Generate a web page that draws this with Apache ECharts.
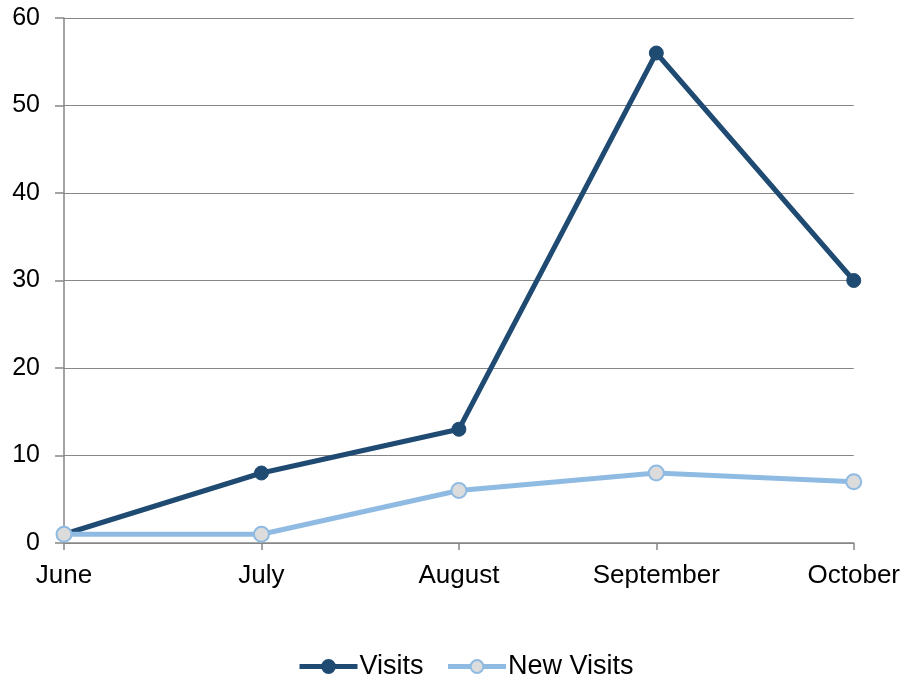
<!DOCTYPE html>
<html>
<head>
<meta charset="utf-8">
<script src="https://cdn.jsdelivr.net/npm/echarts@6/dist/echarts.min.js"></script>
<style>
  html, body { margin: 0; padding: 0; background: #fff; }
  #chart { width: 903px; height: 675px; }
</style>
</head>
<body>
<div id="chart"></div>
<script>
var months = ["June", "July", "August", "September", "October"];
var visits = [1, 8, 13, 56, 30];
var newVisits = [1, 1, 6, 8, 7];

var chartDom = document.getElementById("chart");
var myChart = echarts.init(chartDom);
var font = "Liberation Sans";

var option = {
  animation: false,
  textStyle: { fontFamily: font },
  grid: { left: 64, right: 49, top: 18, bottom: 132 },
  legend: {
    top: 648,
    left: 292,
    itemWidth: 58,
    itemHeight: 16,
    itemGap: 22,
    textStyle: { fontSize: 27, color: "#000", fontFamily: font, padding: [0, 0, 0, -3] },
    data: [
      { name: "Visits", itemStyle: { color: "#1f4a72" }, lineStyle: { width: 5 } },
      { name: "New Visits", lineStyle: { width: 5 } }
    ]
  },
  xAxis: {
    type: "category",
    boundaryGap: false,
    data: months,
    axisLine: { lineStyle: { color: "#868686", width: 1.5 } },
    axisTick: { show: true, length: 7, lineStyle: { color: "#868686", width: 1.5 } },
    axisLabel: { fontSize: 26, color: "#000", margin: 20, fontFamily: font }
  },
  yAxis: {
    type: "value",
    min: 0,
    max: 60,
    interval: 10,
    axisLine: { show: true, lineStyle: { color: "#868686", width: 1.5 } },
    axisTick: { show: true, length: 9, lineStyle: { color: "#868686", width: 1.5 } },
    axisLabel: { fontSize: 25, color: "#000", margin: 24, fontFamily: font },
    splitLine: { lineStyle: { color: "#868686", width: 1.2 } }
  },
  series: [
    {
      name: "Visits",
      type: "line",
      data: visits,
      symbol: "circle",
      symbolSize: 14,
      z: 2,
      lineStyle: { color: "#1f4a72", width: 5 },
      itemStyle: { color: "#1f4a72", borderColor: "#1f4a72", borderWidth: 1 }
    },
    {
      name: "New Visits",
      type: "line",
      data: newVisits,
      symbol: "circle",
      symbolSize: 15,
      z: 3,
      lineStyle: { color: "#8fbbe3", width: 5 },
      itemStyle: { color: "#dcdcdc", borderColor: "#8fbbe3", borderWidth: 2 }
    }
  ]
};

option && myChart.setOption(option);
</script>
</body>
</html>
